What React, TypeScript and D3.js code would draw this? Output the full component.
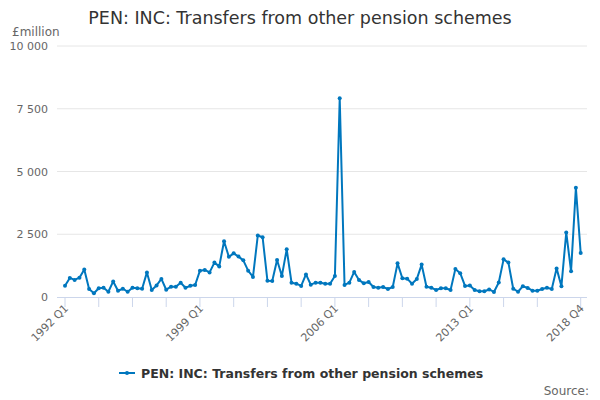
import React from "react";
import * as d3 from "d3";

const title = "PEN: INC: Transfers from other pension schemes";
const unitLabel = "£million";
const seriesName = "PEN: INC: Transfers from other pension schemes";
const sourceLabel = "Source:";

const startYear = 1992;
const values: number[] = [
  450, 760, 680, 770, 1100, 320, 150, 350, 370, 210, 620, 250, 330, 210, 370, 350,
  330, 980, 280, 460, 720, 290, 410, 410, 570, 370, 445, 480, 1050, 1080, 980, 1370,
  1220, 2220, 1600, 1740, 1610, 1460, 1050, 800, 2450, 2380, 650, 640, 1475, 840, 1900, 570,
  530, 440, 900, 490, 570, 570, 530, 530, 840, 7920, 480, 570, 1000, 680, 545, 600,
  400, 370, 400, 320, 400, 1340, 745, 730, 530, 720, 1290, 410, 370, 280, 350, 350,
  280, 1120, 950, 440, 460, 280, 230, 230, 300, 200, 580, 1500, 1370, 330, 210, 430,
  360, 250, 250, 320, 370, 320, 1140, 430, 2570, 1030, 4350, 1750,
];
const categories: string[] = values.map(
  (_, i) => `${startYear + Math.floor(i / 4)} Q${(i % 4) + 1}`
);
const yTicks = [0, 2500, 5000, 7500, 10000];
const labelledTicks = ["1992 Q1", "1999 Q1", "2006 Q1", "2013 Q1", "2018 Q4"];

const W = 600;
const H = 400;
const left = 65;
const right = 580.7;
const top = 46;
const bottom = 297;
const color = "#0077be";
const font = "DejaVu Sans, sans-serif";

export default function App() {
  const x = d3.scalePoint<string>().domain(categories).range([left, right]);
  const y = d3.scaleLinear().domain([0, 10000]).range([bottom, top]);
  const fmt = (v: number) => d3.format(",")(v).replace(/,/g, " ");
  const line = d3
    .line<number>()
    .x((_, i) => x(categories[i]) as number)
    .y((d) => y(d));

  const tickIdx: number[] = [];
  for (let i = 0; i <= 98; i += 7) tickIdx.push(i);
  tickIdx.push(categories.length - 1);

  return (
    <svg
      width={W}
      height={H}
      style={{ position: "absolute", left: 0, top: 0, fontFamily: font }}
    >
      <rect width={W} height={H} fill="#ffffff" />
      <text x={300} y={24} textAnchor="middle" fontSize={17.5} fill="#333333">
        {title}
      </text>
      <text x={12} y={36} fontSize={12} fill="#666666">
        {unitLabel}
      </text>
      {yTicks.map((t) => (
        <g key={t}>
          {t > 0 && (
            <line x1={57} x2={587} y1={y(t)} y2={y(t)} stroke="#e6e6e6" strokeWidth={1} />
          )}
          <text
            x={48}
            y={y(t) + 4}
            textAnchor="end"
            fontSize={11}
            fill="#666666"
          >
            {fmt(t)}
          </text>
        </g>
      ))}
      <line x1={57} x2={587} y1={bottom + 0.5} y2={bottom + 0.5} stroke="#ccd6eb" strokeWidth={1} />
      {tickIdx.map((i) => {
        const cx = x(categories[i]) as number;
        return (
          <line key={i} x1={cx} x2={cx} y1={bottom} y2={bottom + 10} stroke="#ccd6eb" strokeWidth={1} />
        );
      })}
      {labelledTicks.map((c) => {
        const cx = x(c) as number;
        return (
          <text
            key={c}
            transform={`translate(${cx + 4},${bottom + 12}) rotate(-45)`}
            textAnchor="end"
            fontSize={11}
            fill="#666666"
          >
            {c}
          </text>
        );
      })}
      <path d={line(values) || ""} fill="none" stroke={color} strokeWidth={2} strokeLinejoin="round" />
      {values.map((v, i) => (
        <circle key={i} cx={x(categories[i]) as number} cy={y(v)} r={2} fill={color} />
      ))}
      <g>
        <line x1={119} x2={135} y1={373} y2={373} stroke={color} strokeWidth={2} />
        <circle cx={127} cy={373} r={2} fill={color} />
        <text x={141} y={377.5} fontSize={12.5} fontWeight="bold" fill="#333333">
          {seriesName}
        </text>
      </g>
      <text x={589} y={395} textAnchor="end" fontSize={12} fill="#666666">
        {sourceLabel}
      </text>
    </svg>
  );
}
